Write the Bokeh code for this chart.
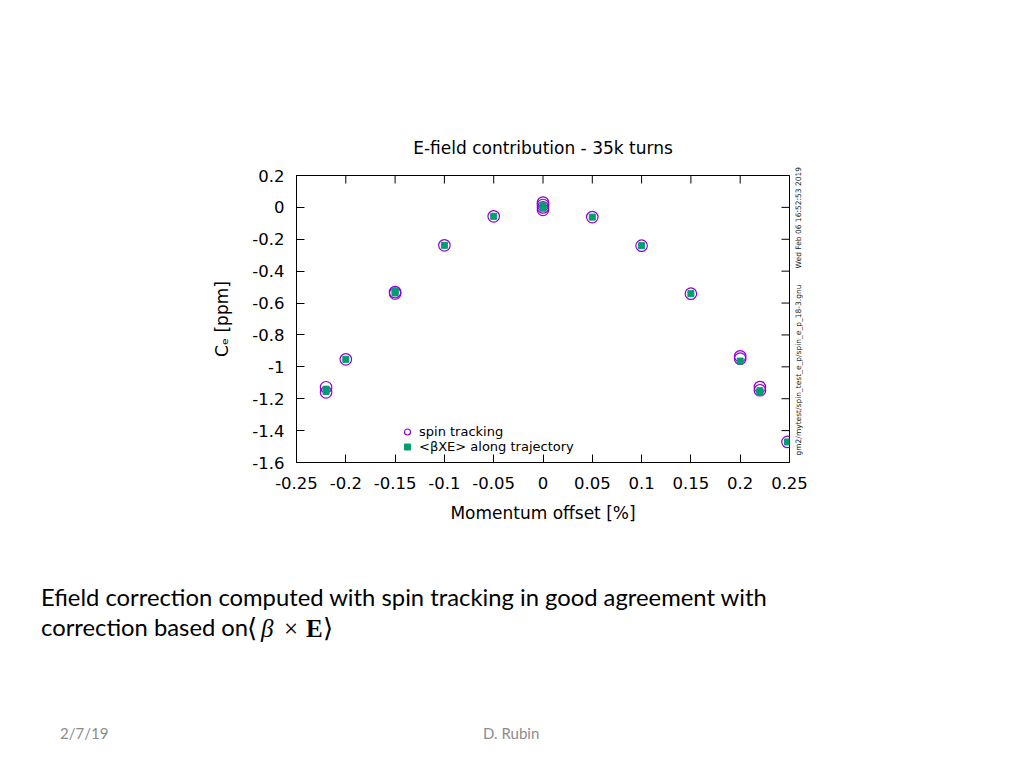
#!/usr/bin/env python

from math import pi

from bokeh.plotting import figure
from bokeh.layouts import column
from bokeh.models import (Range1d, FixedTicker, Legend, LegendItem,
                          LinearAxis, Div)
from bokeh.resources import INLINE
from bokeh.embed import file_html

# spin tracking (open circles)
spin_x = [-0.22, -0.22, -0.2, -0.15, -0.15, -0.1, -0.05,
          0.0, 0.0, 0.0, 0.0, 0.05, 0.1, 0.15,
          0.2, 0.2, 0.22, 0.22, 0.248]
spin_y = [-1.128, -1.16, -0.953, -0.531, -0.54, -0.238, -0.056,
          0.03, 0.015, 0.0, -0.015, -0.061, -0.24, -0.541,
          -0.934, -0.949, -1.127, -1.147, -1.471]

# <beta x E> along trajectory (filled squares)
traj_x = [-0.22, -0.22, -0.2, -0.15, -0.15, -0.1, -0.05,
          0.0, 0.0, 0.05, 0.1, 0.15, 0.2, 0.22, 0.22, 0.248]
traj_y = [-1.14, -1.155, -0.953, -0.527, -0.537, -0.238, -0.056,
          0.01, -0.005, -0.061, -0.24, -0.541, -0.964, -1.15, -1.16, -1.471]

x_ticks = [-0.25, -0.2, -0.15, -0.1, -0.05, 0.0, 0.05, 0.1, 0.15, 0.2, 0.25]
x_tick_labels = ["-0.25", "-0.2", "-0.15", "-0.1", "-0.05", "0",
                 "0.05", "0.1", "0.15", "0.2", "0.25"]
y_ticks = [0.2, 0.0, -0.2, -0.4, -0.6, -0.8, -1.0, -1.2, -1.4, -1.6]
y_tick_labels = ["0.2", "0", "-0.2", "-0.4", "-0.6", "-0.8", "-1",
                 "-1.2", "-1.4", "-1.6"]
X_MIN, X_MAX = -0.25, 0.25
Y_MIN, Y_MAX = -1.6, 0.2

title_text = "E-field contribution - 35k turns"
x_label = "Momentum offset [%]"
y_label = "C\u2091 [ppm]"
legend_labels = ["spin tracking", "<\u03b2XE> along trajectory"]
stamp_file = "gm2/mytest/spin_test_e_p/spin_e_p_18-3.gnu"
stamp_date = "Wed Feb 06 16:52:53 2019"

slide_line1 = "Efield correction computed with spin tracking in good agreement with"
slide_line2 = "correction based on"
footer_date = "2/7/19"
footer_author = "D. Rubin"

PLOT_FONT = "DejaVu Sans"
SLIDE_FONT = "Lato"
MATH_FONT = "Liberation Serif"
PURPLE = "#9400d3"
GREEN = "#009e73"
GREY = "#8c8c8c"

W, H = 1008, 752
# frame edges (page px)
FL, FR, FT, FB = 296, 789, 175, 462
PLOT_H = 548
# where the two stamp texts start, bottom end (y in data units)
STAMP_FILE_AT, STAMP_DATE_AT = -1.556, -0.383

# ---- the gnuplot chart ----
p = figure(width=W, height=PLOT_H,
           x_range=Range1d(X_MIN, X_MAX), y_range=Range1d(Y_MIN, Y_MAX),
           output_backend="svg", toolbar_location=None,
           min_border_left=FL, min_border_right=W - FR,
           min_border_top=FT, min_border_bottom=PLOT_H - FB)

p.title.text = title_text
p.title.align = "center"
p.title.text_font = PLOT_FONT
p.title.text_font_size = "17px"
p.title.text_font_style = "normal"
p.title.text_color = "black"
p.title.standoff = 36

p.xgrid.visible = False
p.ygrid.visible = False
p.outline_line_color = "black"
p.outline_line_width = 1

circ = p.scatter(spin_x, spin_y, marker="circle", size=11.5,
                 fill_color=None, line_color=PURPLE, line_width=1.2)
sq = p.scatter(traj_x, traj_y, marker="square", size=6,
               fill_color=GREEN, line_color=GREEN)

# mirrored ticks on the top and right border
p.ray(x=x_ticks, y=Y_MAX, length=8, length_units="screen",
      angle=-pi / 2, line_color="black", line_width=1)
p.ray(x=X_MAX, y=y_ticks, length=8, length_units="screen",
      angle=pi, line_color="black", line_width=1)

p.xaxis.ticker = FixedTicker(ticks=x_ticks)
p.xaxis.major_label_overrides = dict(zip(x_ticks, x_tick_labels))
p.xaxis.axis_label = x_label
p.xaxis.major_label_standoff = 14
p.xaxis.axis_label_standoff = 11
p.yaxis.ticker = FixedTicker(ticks=y_ticks)
p.yaxis.major_label_overrides = dict(zip(y_ticks, y_tick_labels))
p.yaxis.axis_label = y_label
p.yaxis.major_label_standoff = 12
p.yaxis.axis_label_standoff = 17

for ax in p.axis:
    ax.major_tick_in = 8
    ax.major_tick_out = 0
    ax.minor_tick_line_color = None
    ax.axis_line_color = "black"
    ax.major_tick_line_color = "black"
    ax.major_label_text_font = PLOT_FONT
    ax.major_label_text_font_size = "16.5px"
    ax.major_label_text_color = "black"
    ax.axis_label_text_font = PLOT_FONT
    ax.axis_label_text_font_size = "17px"
    ax.axis_label_text_font_style = "normal"
    ax.axis_label_text_color = "black"

# gnuplot time stamp, written up the right border
stamp_ax = LinearAxis(ticker=FixedTicker(ticks=[STAMP_FILE_AT, STAMP_DATE_AT]),
                      major_label_overrides={STAMP_FILE_AT: stamp_file,
                                             STAMP_DATE_AT: stamp_date},
                      major_label_orientation=pi / 2,
                      major_label_standoff=3,
                      major_label_text_font=PLOT_FONT,
                      major_label_text_font_size="7.5px",
                      major_label_text_color="#222222",
                      axis_line_color=None, major_tick_line_color=None,
                      minor_tick_line_color=None)
p.add_layout(stamp_ax, "right")

legend = Legend(items=[LegendItem(label=legend_labels[0], renderers=[circ]),
                       LegendItem(label=legend_labels[1], renderers=[sq])],
                location=(103, 8), padding=0, margin=0, spacing=0,
                label_height=15, glyph_height=15, glyph_width=16,
                label_standoff=4, label_text_font=PLOT_FONT,
                label_text_font_size="13px", label_text_color="black",
                border_line_color=None, background_fill_alpha=0)
p.add_layout(legend)

# ---- slide text below the chart ----
TXT_H = H - PLOT_H


def span(text, x, y_center, size, color="black", font=None, style=""):
    top = y_center - PLOT_H - size / 2
    fam = "font-family:'{}';".format(font) if font else ""
    return ('<span style="position:absolute;left:{}px;top:{}px;{}{}'
            'font-size:{}px;line-height:1;white-space:nowrap;color:{};">'
            '{}</span>').format(x, top, fam, style, size, color, text)


html = ('<div style="position:relative;width:{}px;height:{}px;'
        'font-family:\'{}\';">'.format(W, TXT_H, SLIDE_FONT)
        + span(slide_line1, 41, 598, 23.8)
        + span(slide_line2, 41, 628, 23.8)
        + span("\u27e8", 247, 628, 26, font="DejaVu Serif")
        + span("\u03b2", 261, 628, 25, font=MATH_FONT, style="font-style:italic;")
        + span("\u00d7", 284, 628, 25, font=MATH_FONT)
        + span("E", 306, 628, 25, font=MATH_FONT, style="font-weight:bold;")
        + span("\u27e9", 323, 628, 26, font="DejaVu Serif")
        + span(footer_date, 60, 733, 15, GREY)
        + span(footer_author, 483, 733, 15, GREY)
        + '</div>')

txt = Div(text=html, width=W, height=TXT_H, margin=(0, 0, 0, 0))

page = column(p, txt, spacing=0)

open("out.html", "w").write(file_html(page, INLINE))
